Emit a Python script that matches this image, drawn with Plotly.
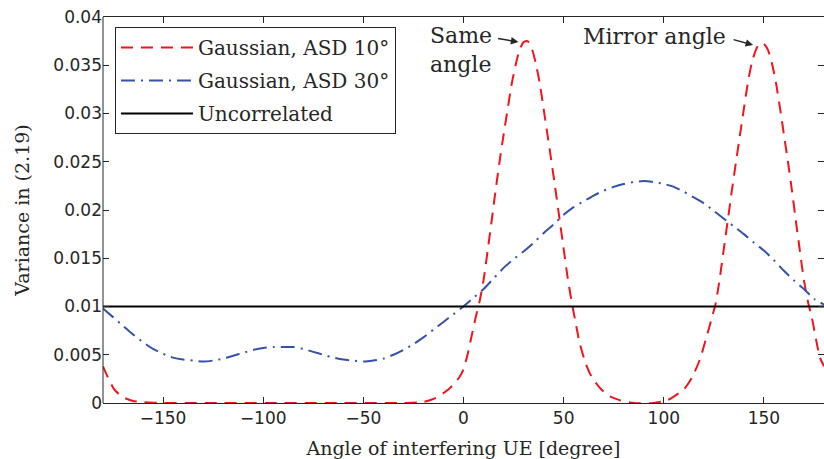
import plotly.graph_objects as go

# ---- data ----
angle_asd10 = [-180, -177, -174, -170, -165, -160, -150, -120, -90, -60, -30, -20, -14, -7, -2, 0,
               2, 4, 6, 8, 10, 12, 14, 16, 18, 20, 22, 24, 26, 28, 30, 32, 34, 36, 38, 40, 42, 44,
               46, 48, 50, 52, 54, 56, 58, 61, 64, 68, 72, 78, 85, 95, 102, 106, 110, 114, 118,
               121, 124, 126, 128, 130, 132, 134, 136, 138, 140, 142, 144, 146, 148, 150, 152,
               154, 156, 158, 160, 162, 164, 166, 168, 170, 172, 174, 176, 178, 180]
var_asd10 = [0.0038, 0.0024, 0.0013, 0.0006, 0.0002, 0.0001, 0.0, 0.0, 0.0, 0.0, 0.0, 0.0001, 0.0005,
             0.0015, 0.0027, 0.0035, 0.0050, 0.0069, 0.0088, 0.0105, 0.0127, 0.0157, 0.0188,
             0.0220, 0.0250, 0.0278, 0.0304, 0.0330, 0.0350, 0.0366, 0.0374, 0.0375, 0.0368,
             0.0353, 0.0332, 0.0305, 0.0277, 0.0249, 0.0220, 0.0190, 0.0160, 0.0130, 0.0105,
             0.0083, 0.0062, 0.0041, 0.0027, 0.0016, 0.0008, 0.0003, 0.0, 0.0, 0.0003, 0.0008,
             0.0014, 0.0026, 0.0045, 0.0066, 0.0088, 0.0104, 0.0130, 0.0160, 0.0190, 0.0220,
             0.0249, 0.0277, 0.0305, 0.0332, 0.0353, 0.0366, 0.0373, 0.0372, 0.0366, 0.0352,
             0.0332, 0.0306, 0.0278, 0.0250, 0.0220, 0.0188, 0.0157, 0.0127, 0.0105, 0.0088,
             0.0066, 0.0047, 0.0038]

angle_asd30 = list(range(-180, 181, 5))
var_asd30 = [0.0098, 0.0089, 0.0080, 0.0071, 0.0063, 0.0056, 0.0051, 0.0047, 0.0045, 0.0044,
             0.0043, 0.0044, 0.0046, 0.0049, 0.0052, 0.0055, 0.0057, 0.0058, 0.0058, 0.0058,
             0.0056, 0.0053, 0.0050, 0.0047, 0.0045, 0.0044, 0.0043, 0.0044, 0.0046, 0.0050,
             0.0055, 0.0061, 0.0068, 0.0076, 0.0084, 0.0092, 0.0100, 0.0109, 0.0118, 0.0129,
             0.0140, 0.0149, 0.0157, 0.0166, 0.0176, 0.0185, 0.0195, 0.0203, 0.0209, 0.0215,
             0.0220, 0.0224, 0.0227, 0.0229, 0.0230, 0.0229, 0.0227, 0.0224, 0.0219, 0.0213,
             0.0207, 0.0199, 0.0191, 0.0183, 0.0175, 0.0166, 0.0158, 0.0148, 0.0137, 0.0127,
             0.0118, 0.0108, 0.0102]

angle_uncorr = [-180, 180]
var_uncorr = [0.01, 0.01]

x_tickvals = [-150, -100, -50, 0, 50, 100, 150]
x_ticktext = ["\u2212150", "\u2212100", "\u221250", "0", "50", "100", "150"]
y_tickvals = [0, 0.005, 0.01, 0.015, 0.02, 0.025, 0.03, 0.035, 0.04]
y_ticktext = ["0", "0.005", "0.01", "0.015", "0.02", "0.025", "0.03", "0.035", "0.04"]

names = ["Gaussian, ASD 10\u00b0", "Gaussian, ASD 30\u00b0", "Uncorrelated"]

SERIF = "DejaVu Serif"
SANS = "DejaVu Sans"
TXT = "#262626"

fig = go.Figure()
fig.add_trace(go.Scatter(x=angle_asd10, y=var_asd10, mode="lines", name=names[0],
                         legendgroup="a", line=dict(color="#f0141e", width=2, dash="12px,8px",
                                                    shape="spline", smoothing=0.6)))
fig.add_trace(go.Scatter(x=angle_asd30, y=var_asd30, mode="lines", name=names[1],
                         legendgroup="b", line=dict(color="#3352a8", width=2,
                                                    dash="14px,6px,2px,6px", shape="spline",
                                                    smoothing=0.6)))
fig.add_trace(go.Scatter(x=angle_uncorr, y=var_uncorr, mode="lines", name=names[2],
                         legendgroup="c", line=dict(color="black", width=2)))

fig.update_layout(
    width=824, height=459,
    margin=dict(l=103, r=0, t=17, b=56),
    plot_bgcolor="white", paper_bgcolor="white",
    font=dict(family=SANS, size=17, color=TXT),
    showlegend=True,
    legend=dict(x=0.0166, y=0.974, xanchor="left", yanchor="top",
                bgcolor="white", bordercolor="#262626", borderwidth=1,
                font=dict(family=SERIF, size=20, color=TXT), tracegroupgap=4,
                itemwidth=72, traceorder="grouped"),
)
fig.update_xaxes(range=[-180, 180], tickvals=x_tickvals, ticktext=x_ticktext,
                 ticks="inside", ticklen=6, tickcolor=TXT, showline=True, linecolor=TXT,
                 linewidth=1, mirror="ticks", showgrid=False, zeroline=False,
                 tickfont=dict(family=SANS, size=17, color=TXT),
                 title=dict(text="Angle of interfering UE [degree]", standoff=15,
                            font=dict(family=SERIF, size=19, color=TXT)))
fig.update_yaxes(range=[0, 0.04], tickvals=y_tickvals, ticktext=y_ticktext,
                 ticks="inside", ticklen=6, tickcolor=TXT, showline=False,
                 mirror="ticks", showgrid=False, zeroline=False,
                 tickfont=dict(family=SANS, size=17, color=TXT),
                 title=dict(text="Variance in (2.19)", standoff=18,
                            font=dict(family=SERIF, size=19, color=TXT)))
# left frame edge
fig.add_shape(type="line", xref="paper", yref="paper", x0=0, x1=0, y0=0, y1=1,
              line=dict(color=TXT, width=1))

# annotations
fig.add_annotation(x=-17.5, y=0.0396, xref="x", yref="y", text="Same<br>angle", showarrow=False,
                   xanchor="left", yanchor="top", align="left",
                   font=dict(family=SERIF, size=22, color=TXT))
fig.add_annotation(x=27.4, y=0.0374, ax=16.5, ay=0.0378, xref="x", yref="y", axref="x", ayref="y",
                   text="", showarrow=True, arrowhead=2, arrowsize=1, arrowwidth=1.5,
                   arrowcolor=TXT)
fig.add_annotation(x=58.5, y=0.0395, xref="x", yref="y", text="Mirror angle", showarrow=False,
                   xanchor="left", yanchor="top", align="left",
                   font=dict(family=SERIF, size=22, color=TXT))
fig.add_annotation(x=144.6, y=0.0371, ax=134.1, ay=0.0377, xref="x", yref="y", axref="x",
                   ayref="y", text="", showarrow=True, arrowhead=2, arrowsize=1,
                   arrowwidth=1.5, arrowcolor=TXT)

fig.write_html("out.html")
